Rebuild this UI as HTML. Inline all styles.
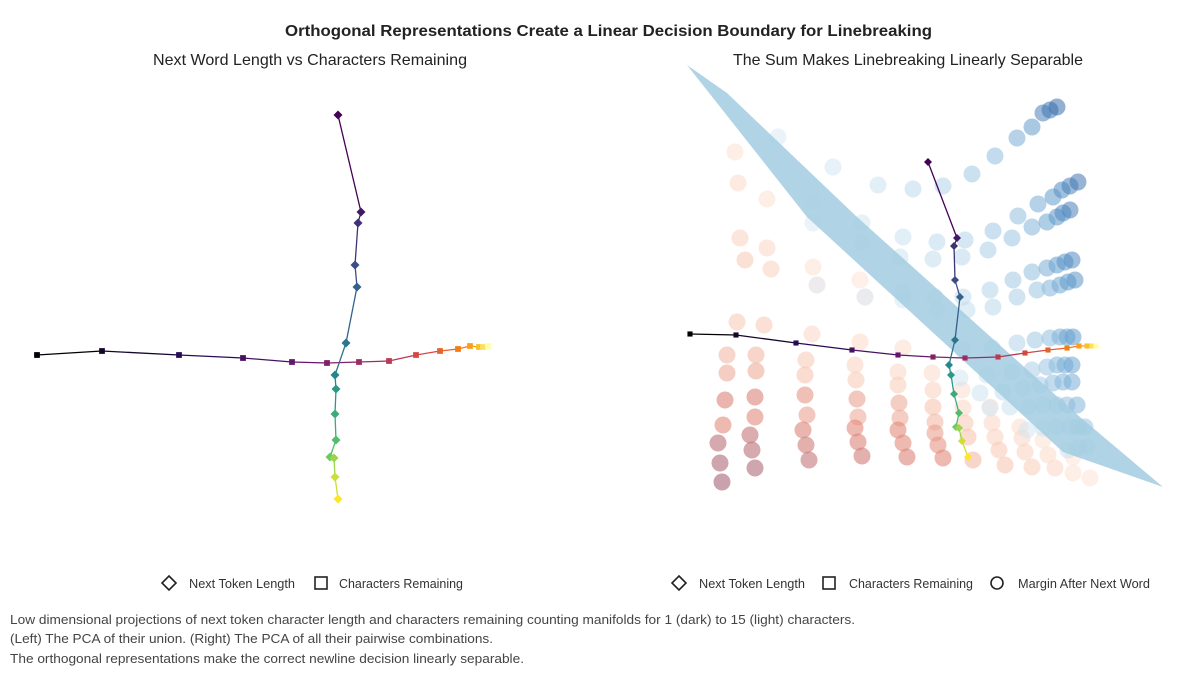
<!DOCTYPE html>
<html><head><meta charset="utf-8"><style>
html,body{margin:0;padding:0;background:#fff;width:1200px;height:676px;overflow:hidden}
svg{display:block;font-family:"Liberation Sans",sans-serif}
</style></head><body>
<svg id="fig" width="1200" height="676" viewBox="0 0 1200 676">
<text x="285" y="36" font-size="16" font-weight="bold" fill="#222" textLength="647" lengthAdjust="spacingAndGlyphs">Orthogonal Representations Create a Linear Decision Boundary for Linebreaking</text>
<text x="153" y="65" font-size="16" fill="#222" textLength="314" lengthAdjust="spacingAndGlyphs">Next Word Length vs Characters Remaining</text>
<text x="733" y="65" font-size="16" fill="#222" textLength="350" lengthAdjust="spacingAndGlyphs">The Sum Makes Linebreaking Linearly Separable</text>
<g id="left"></g>
<g id="right"></g>
<g>
 <g><path d="M169 576 L176 583 L169 590 L162 583 Z" fill="none" stroke="#222" stroke-width="1.6"/><text x="189" y="588" font-size="13" fill="#333" textLength="106" lengthAdjust="spacingAndGlyphs">Next Token Length</text></g>
 <g><rect x="315" y="577" width="12" height="12" fill="none" stroke="#222" stroke-width="1.6"/><text x="339" y="588" font-size="13" fill="#333" textLength="124" lengthAdjust="spacingAndGlyphs">Characters Remaining</text></g>
</g>
<g>
 <g><path d="M679 576 L686 583 L679 590 L672 583 Z" fill="none" stroke="#222" stroke-width="1.6"/><text x="699" y="588" font-size="13" fill="#333" textLength="106" lengthAdjust="spacingAndGlyphs">Next Token Length</text></g>
 <g><rect x="823" y="577" width="12" height="12" fill="none" stroke="#222" stroke-width="1.6"/><text x="849" y="588" font-size="13" fill="#333" textLength="124" lengthAdjust="spacingAndGlyphs">Characters Remaining</text></g>
 <g><circle cx="997" cy="583" r="6" fill="none" stroke="#222" stroke-width="1.6"/><text x="1018" y="588" font-size="13" fill="#333" textLength="132" lengthAdjust="spacingAndGlyphs">Margin After Next Word</text></g>
</g>
<g font-size="13" fill="#444">
 <text x="10" y="624" textLength="845" lengthAdjust="spacingAndGlyphs">Low dimensional projections of next token character length and characters remaining counting manifolds for 1 (dark) to 15 (light) characters.</text>
 <text x="10" y="643" textLength="483" lengthAdjust="spacingAndGlyphs">(Left) The PCA of their union. (Right) The PCA of all their pairwise combinations.</text>
 <text x="10" y="663" textLength="514" lengthAdjust="spacingAndGlyphs">The orthogonal representations make the correct newline decision linearly separable.</text>
</g>
</svg>
<script>
// ---- left chart data (PCA coordinates) ----
const leftLenX = [338,361,358,355,357,346,335,336,335,336,330,334,335,338];
const leftLenY = [115,212,223,265,287,343,375,389,414,440,457,458,477,499];
const leftRemX = [37,102,179,243,292,327,359,389,416,440,458,470,479,483,488];
const leftRemY = [355,351,355,358,362,363,362,361,355,351,349,346,347,347,346];
// ---- right chart data ----
const rightLenX = [928,957,954,955,960,955,949,951,954,959,956,959,962,968];
const rightLenY = [162,238,246,280,297,340,365,375,394,413,427,428,441,457];
const rightRemX = [690,736,796,852,898,933,965,998,1025,1048,1067,1079,1087,1092,1096];
const rightRemY = [334,335,343,350,355,357,358,357,353,350,348,346,346,346,346];
const planeX = [687,727,857,1080,1163,1063,807];
const planeY = [65,93,217,417,487,452,217];
const blueX = [1057,1050,1043,1032,1017,995,972,943,913,878,833,778,
 1078,1070,1062,1053,1038,1018,993,965,937,903,862,813,
 1070,1063,1057,1047,1032,1012,988,962,933,900,862,813,
 1072,1065,1057,1047,1032,1013,990,963,935,903,865,817,
 1075,1068,1060,1050,1037,1017,993,967,937,903,
 1073,1067,1060,1050,1035,1017,992,963,
 1072,1065,1057,1047,1032,1012,987,960,
 1072,1063,1053,1040,1023,1003,980,
 1077,1067,1057,1043,1028,1010,990,
 1085,1078,1070,1057,1043,1027,
 1087,1078,1068];
const blueY = [107,110,113,127,138,156,174,186,189,185,167,137,
 182,186,190,197,204,216,231,240,242,237,223,202,
 210,213,217,222,227,238,250,257,259,257,242,223,
 260,262,265,268,272,280,290,297,297,292,297,285,
 280,282,285,288,290,297,307,310,310,300,
 337,337,337,338,340,343,348,350,
 365,365,365,367,370,372,375,378,
 382,382,383,385,388,392,393,
 405,405,405,405,407,407,408,
 427,427,427,427,428,430,
 447,448,450];
const blueShade = [0.95,0.9,0.85,0.7,0.6,0.5,0.42,0.35,0.28,0.2,0.15,0.1,
 0.9,0.85,0.8,0.7,0.6,0.5,0.42,0.35,0.28,0.2,0.15,0.1,
 0.85,0.8,0.75,0.65,0.55,0.45,0.38,0.3,0.25,0.18,0.12,0.08,
 0.8,0.75,0.7,0.6,0.5,0.42,0.35,0.28,0.22,0.16,0.1,0.06,
 0.75,0.7,0.65,0.55,0.45,0.38,0.3,0.24,0.18,0.12,
 0.7,0.65,0.6,0.5,0.42,0.35,0.28,0.2,
 0.65,0.6,0.55,0.45,0.38,0.3,0.22,0.15,
 0.6,0.55,0.5,0.4,0.32,0.25,0.18,
 0.55,0.5,0.42,0.35,0.28,0.2,0.14,
 0.45,0.4,0.35,0.28,0.2,0.14,
 0.35,0.28,0.2];
const redX = [727,727,725,723,718,720,722,737,740,745,738,735,
 756,756,755,755,750,752,755,764,771,767,767,
 806,805,805,807,803,806,809,812,817,813,
 855,856,857,858,855,858,862,860,865,860,
 898,898,899,900,898,903,907,903,
 932,933,933,935,935,938,943,
 962,963,965,968,973,
 990,992,995,999,1005,
 1020,1022,1025,1032,
 1043,1048,1055,
 1073,1073,1090];
const redY = [355,373,400,425,443,463,482,322,238,260,183,152,
 355,371,397,417,435,450,468,325,269,248,199,
 360,375,395,415,430,445,460,334,285,267,
 365,380,399,417,428,442,456,342,297,280,
 372,385,403,418,430,443,457,348,
 373,390,407,422,433,445,458,
 390,408,423,437,460,
 407,423,437,450,465,
 427,438,452,467,
 440,455,468,
 457,473,478];
const redShade = [0.35,0.4,0.6,0.55,0.75,0.8,0.85,0.25,0.2,0.25,0.12,0.08,
 0.35,0.4,0.6,0.55,0.7,0.75,0.8,0.25,0.2,0.15,0.08,
 0.25,0.3,0.5,0.45,0.6,0.65,0.7,0.15,0.12,0.08,
 0.2,0.25,0.45,0.4,0.55,0.6,0.65,0.12,0.08,0.06,
 0.15,0.22,0.4,0.4,0.55,0.55,0.6,0.1,
 0.12,0.2,0.3,0.35,0.45,0.5,0.55,
 0.1,0.15,0.25,0.3,0.35,
 0.1,0.15,0.2,0.25,0.28,
 0.1,0.15,0.2,0.22,
 0.08,0.12,0.15,
 0.06,0.08,0.05];

const NS='http://www.w3.org/2000/svg';
function mk(tag,attrs,parent){const e=document.createElementNS(NS,tag);for(const k in attrs)e.setAttribute(k,attrs[k]);parent.appendChild(e);return e;}
// axis functions (PCA units -> pixels)
const xScale = v => 0 + 1*v;
const yScale = v => 0 + 1*v;
function lerpColor(stops,t){t=Math.max(0,Math.min(1,t));const n=stops.length-1;const i=Math.min(n-1,Math.floor(t*n));const f=t*n-i;const a=stops[i],b=stops[i+1];return 'rgb('+[0,1,2].map(k=>Math.round(a[k]+(b[k]-a[k])*f)).join(',')+')';}
const viridis=[[68,1,84],[59,82,139],[33,145,140],[94,201,98],[253,231,37]];
const inferno=[[0,0,4],[40,11,84],[101,21,110],[159,42,99],[212,72,66],[245,125,21],[250,193,39],[252,255,164]];
const blues=[[232,242,250],[175,210,232],[90,155,205],[30,85,155]];
const reds=[[254,236,226],[248,200,180],[225,135,120],[165,100,120]];

function drawSeries(g,xs,ys,shape,stops,size,name){
  const n=xs.length;
  for(let i=0;i<n-1;i++){
    const l=mk('line',{x1:xScale(xs[i]),y1:yScale(ys[i]),x2:xScale(xs[i+1]),y2:yScale(ys[i+1]),stroke:lerpColor(stops,i/(n-1)),'stroke-width':1.3},g);
    
    
  }
  for(let i=0;i<n;i++){
    const x=xScale(xs[i]),y=yScale(ys[i]),c=lerpColor(stops,i/(n-1));let e;
    if(shape==='d'){e=mk('path',{d:`M${x} ${y-size} L${x+size} ${y} L${x} ${y+size} L${x-size} ${y} Z`,fill:c},g);}
    else{e=mk('rect',{x:x-size*0.8,y:y-size*0.8,width:size*1.6,height:size*1.6,fill:c},g);}
    
    
  }
}
const L=document.getElementById('left');
drawSeries(L,leftRemX,leftRemY,'s',inferno,3.6,'characters-remaining');
drawSeries(L,leftLenX,leftLenY,'d',viridis,4.5,'next-token-length');

const R=document.getElementById('right');
for(let i=0;i<redX.length;i++){
  const c=mk('circle',{cx:xScale(redX[i]),cy:yScale(redY[i]),r:8.5,fill:lerpColor(reds,redShade[i]/0.85),'fill-opacity':0.6},R);
  
  
}
for(let i=0;i<blueX.length;i++){
  const c=mk('circle',{cx:xScale(blueX[i]),cy:yScale(blueY[i]),r:8.5,fill:lerpColor(blues,blueShade[i]),'fill-opacity':0.5},R);
  
  
}
const pts=planeX.map((x,i)=>xScale(x)+','+yScale(planeY[i])).join(' ');
const plane=mk('polygon',{points:pts,fill:'#a2cde0','fill-opacity':0.85},R);


drawSeries(R,rightRemX,rightRemY,'s',inferno,3.2,'characters-remaining');
drawSeries(R,rightLenX,rightLenY,'d',viridis,4,'next-token-length');
</script>
</body></html>
